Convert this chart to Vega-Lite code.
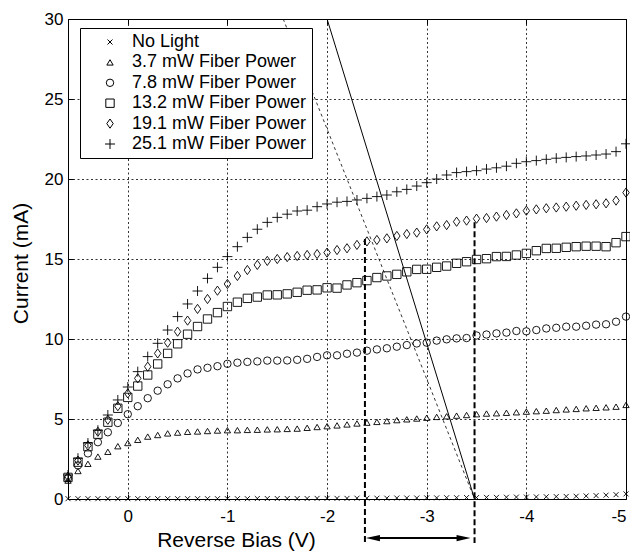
{
  "$schema": "https://vega.github.io/schema/vega-lite/v6.json",
  "width": 558,
  "height": 480,
  "autosize": {"type": "none"},
  "padding": {"left": 68, "top": 19, "right": 4, "bottom": 52},
  "background": "white",
  "datasets": {
    "iv": [
      {"v": 0.6, "n": 0.02, "a": 1.15, "b": 1.3, "c": 1.35, "d": 1.4, "e": 1.5},
      {"v": 0.5, "n": 0.02, "a": 1.75, "b": 2.1, "c": 2.3, "d": 2.4, "e": 2.55},
      {"v": 0.4, "n": 0.02, "a": 2.2, "b": 2.85, "c": 3.27, "d": 3.35, "e": 3.5},
      {"v": 0.3, "n": 0.02, "a": 2.65, "b": 3.55, "c": 4.05, "d": 4.2, "e": 4.3},
      {"v": 0.2, "n": 0.02, "a": 2.95, "b": 4.17, "c": 4.8, "d": 4.95, "e": 5.25},
      {"v": 0.1, "n": 0.02, "a": 3.3, "b": 4.75, "c": 5.67, "d": 5.8, "e": 6.19},
      {"v": 0, "n": 0.02, "a": 3.5, "b": 5.3, "c": 6.35, "d": 6.6, "e": 7.0},
      {"v": -0.1, "n": 0.02, "a": 3.7, "b": 5.8, "c": 7.06, "d": 7.54, "e": 7.96},
      {"v": -0.2, "n": 0.02, "a": 3.9, "b": 6.3, "c": 7.75, "d": 8.27, "e": 8.9},
      {"v": -0.3, "n": 0.02, "a": 4.0, "b": 6.77, "c": 8.44, "d": 9.1, "e": 9.73},
      {"v": -0.4, "n": 0.02, "a": 4.1, "b": 7.17, "c": 9.1, "d": 9.77, "e": 10.56},
      {"v": -0.5, "n": 0.02, "a": 4.15, "b": 7.54, "c": 9.7, "d": 10.46, "e": 11.4},
      {"v": -0.6, "n": 0.02, "a": 4.2, "b": 7.85, "c": 10.3, "d": 11.15, "e": 12.19},
      {"v": -0.7, "n": 0.02, "a": 4.22, "b": 8.1, "c": 10.78, "d": 11.88, "e": 13.0},
      {"v": -0.8, "n": 0.02, "a": 4.25, "b": 8.2, "c": 11.25, "d": 12.5, "e": 13.79},
      {"v": -0.9, "n": 0.02, "a": 4.28, "b": 8.3, "c": 11.65, "d": 13.02, "e": 14.48},
      {"v": -1.0, "n": 0.02, "a": 4.3, "b": 8.45, "c": 12.03, "d": 13.44, "e": 15.15},
      {"v": -1.1, "n": 0.02, "a": 4.3, "b": 8.52, "c": 12.3, "d": 13.94, "e": 15.77},
      {"v": -1.2, "n": 0.02, "a": 4.32, "b": 8.57, "c": 12.54, "d": 14.31, "e": 16.35},
      {"v": -1.3, "n": 0.03, "a": 4.33, "b": 8.6, "c": 12.62, "d": 14.63, "e": 16.86},
      {"v": -1.4, "n": 0.03, "a": 4.35, "b": 8.65, "c": 12.75, "d": 14.88, "e": 17.29},
      {"v": -1.5, "n": 0.03, "a": 4.36, "b": 8.65, "c": 12.76, "d": 15.0, "e": 17.6},
      {"v": -1.6, "n": 0.03, "a": 4.38, "b": 8.66, "c": 12.82, "d": 15.12, "e": 17.8},
      {"v": -1.7, "n": 0.03, "a": 4.4, "b": 8.7, "c": 12.92, "d": 15.19, "e": 18.0},
      {"v": -1.8, "n": 0.03, "a": 4.45, "b": 8.76, "c": 13.05, "d": 15.25, "e": 18.05},
      {"v": -1.9, "n": 0.04, "a": 4.5, "b": 8.88, "c": 13.07, "d": 15.31, "e": 18.27},
      {"v": -2.0, "n": 0.04, "a": 4.55, "b": 8.98, "c": 13.2, "d": 15.4, "e": 18.44},
      {"v": -2.1, "n": 0.04, "a": 4.6, "b": 8.98, "c": 13.18, "d": 15.56, "e": 18.55},
      {"v": -2.2, "n": 0.04, "a": 4.66, "b": 9.08, "c": 13.38, "d": 15.67, "e": 18.6},
      {"v": -2.3, "n": 0.05, "a": 4.72, "b": 9.15, "c": 13.52, "d": 15.88, "e": 18.69},
      {"v": -2.4, "n": 0.05, "a": 4.77, "b": 9.27, "c": 13.65, "d": 16.1, "e": 18.79},
      {"v": -2.5, "n": 0.05, "a": 4.82, "b": 9.35, "c": 13.84, "d": 16.19, "e": 18.9},
      {"v": -2.6, "n": 0.05, "a": 4.87, "b": 9.42, "c": 13.94, "d": 16.29, "e": 19.0},
      {"v": -2.7, "n": 0.06, "a": 4.93, "b": 9.52, "c": 14.04, "d": 16.44, "e": 19.2},
      {"v": -2.8, "n": 0.06, "a": 4.98, "b": 9.62, "c": 14.2, "d": 16.56, "e": 19.35},
      {"v": -2.9, "n": 0.06, "a": 5.03, "b": 9.72, "c": 14.35, "d": 16.65, "e": 19.56},
      {"v": -3.0, "n": 0.07, "a": 5.08, "b": 9.77, "c": 14.36, "d": 16.85, "e": 19.77},
      {"v": -3.1, "n": 0.07, "a": 5.13, "b": 9.9, "c": 14.48, "d": 17.04, "e": 20.0},
      {"v": -3.2, "n": 0.08, "a": 5.17, "b": 9.98, "c": 14.56, "d": 17.12, "e": 20.25},
      {"v": -3.3, "n": 0.08, "a": 5.21, "b": 10.04, "c": 14.73, "d": 17.33, "e": 20.4},
      {"v": -3.4, "n": 0.09, "a": 5.25, "b": 10.06, "c": 14.83, "d": 17.4, "e": 20.46},
      {"v": -3.5, "n": 0.09, "a": 5.3, "b": 10.22, "c": 14.97, "d": 17.52, "e": 20.52},
      {"v": -3.6, "n": 0.1, "a": 5.34, "b": 10.28, "c": 15.02, "d": 17.56, "e": 20.62},
      {"v": -3.7, "n": 0.1, "a": 5.36, "b": 10.35, "c": 15.15, "d": 17.65, "e": 20.7},
      {"v": -3.8, "n": 0.11, "a": 5.39, "b": 10.4, "c": 15.16, "d": 17.75, "e": 20.8},
      {"v": -3.9, "n": 0.12, "a": 5.42, "b": 10.5, "c": 15.25, "d": 17.85, "e": 20.98},
      {"v": -4.0, "n": 0.12, "a": 5.46, "b": 10.48, "c": 15.35, "d": 18.02, "e": 21.08},
      {"v": -4.1, "n": 0.13, "a": 5.49, "b": 10.56, "c": 15.52, "d": 18.1, "e": 21.15},
      {"v": -4.2, "n": 0.14, "a": 5.52, "b": 10.66, "c": 15.66, "d": 18.17, "e": 21.23},
      {"v": -4.3, "n": 0.15, "a": 5.56, "b": 10.7, "c": 15.67, "d": 18.22, "e": 21.3},
      {"v": -4.4, "n": 0.16, "a": 5.6, "b": 10.77, "c": 15.73, "d": 18.27, "e": 21.35},
      {"v": -4.5, "n": 0.17, "a": 5.63, "b": 10.77, "c": 15.77, "d": 18.33, "e": 21.4},
      {"v": -4.6, "n": 0.19, "a": 5.67, "b": 10.83, "c": 15.8, "d": 18.38, "e": 21.44},
      {"v": -4.7, "n": 0.21, "a": 5.7, "b": 10.9, "c": 15.8, "d": 18.42, "e": 21.5},
      {"v": -4.8, "n": 0.24, "a": 5.73, "b": 10.92, "c": 15.77, "d": 18.48, "e": 21.56},
      {"v": -4.9, "n": 0.27, "a": 5.77, "b": 11.08, "c": 16.02, "d": 18.65, "e": 21.71},
      {"v": -5.0, "n": 0.32, "a": 5.88, "b": 11.4, "c": 16.4, "d": 19.15, "e": 22.2}
    ]
  },
  "layer": [
    {
      "data": {"name": "iv"},
      "transform": [{"fold": ["n", "a", "b", "c", "d", "e"], "as": ["s", "i"]}],
      "mark": {"type": "point", "filled": false, "color": "black", "strokeWidth": 0.9, "opacity": 1},
      "encoding": {
        "x": {"field": "v", "type": "quantitative",
          "scale": {"domain": [0.6, -5], "nice": false, "zero": false},
          "axis": {"values": [0, -1, -2, -3, -4, -5], "labelExpr": "'' + datum.value", "title": "Reverse Bias (V)", "labelPadding": 14, "titleX": 168, "titleY": 41, "titleBaseline": "middle", "titleAlign": "center"}},
        "y": {"field": "i", "type": "quantitative",
          "scale": {"domain": [0, 30], "nice": false},
          "axis": {"values": [0, 5, 10, 15, 20, 25, 30], "title": "Current (mA)", "labelPadding": 10, "titleX": -47, "titleY": 244, "titleBaseline": "middle", "titleAlign": "center", "titleAngle": 270}},
        "shape": {"field": "s", "type": "nominal",
          "scale": {"domain": ["n", "a", "b", "c", "d", "e"],
            "range": ["M-1,-1L1,1M1,-1L-1,1", "M0,-0.85L1,0.85L-1,0.85Z", "circle", "square", "M0,-1L0.7,0L0,1L-0.7,0Z", "M-1,0L1,0M0,-1L0,1"]},
          "legend": {"title": null, "labelExpr": "{'n':'No Light','a':'3.7 mW Fiber Power','b':'7.8 mW Fiber Power','c':'13.2 mW Fiber Power','d':'19.1 mW Fiber Power','e':'25.1 mW Fiber Power'}[datum.label]"}},
        "size": {"field": "s", "type": "nominal",
          "scale": {"domain": ["n", "a", "b", "c", "d", "e"], "range": [25, 100, 80, 70, 121, 100]},
          "legend": {"title": null, "labelExpr": "{'n':'No Light','a':'3.7 mW Fiber Power','b':'7.8 mW Fiber Power','c':'13.2 mW Fiber Power','d':'19.1 mW Fiber Power','e':'25.1 mW Fiber Power'}[datum.label]"}}
      }
    },
    {
      "data": {"values": [{"x1": -2.0, "y1": 30, "x2": -3.48, "y2": 0}]},
      "mark": {"type": "rule", "color": "black", "strokeWidth": 1},
      "encoding": {
        "x": {"field": "x1", "type": "quantitative", "axis": {"orient": "top", "values": [0, -1, -2, -3, -4, -5], "labels": false, "grid": false, "title": null, "tickSize": -5}},
        "y": {"field": "y1", "type": "quantitative", "axis": {"orient": "right", "values": [0, 5, 10, 15, 20, 25, 30], "labels": false, "grid": false, "title": null, "tickSize": -5}},
        "x2": {"field": "x2"},
        "y2": {"field": "y2"}
      }
    },
    {
      "data": {"values": [{"x1": -1.56, "y1": 30, "x2": -3.48, "y2": 0}]},
      "mark": {"type": "rule", "color": "black", "strokeWidth": 0.8, "strokeDash": [3, 3]},
      "encoding": {
        "x": {"field": "x1", "type": "quantitative", "axis": null},
        "y": {"field": "y1", "type": "quantitative", "axis": null},
        "x2": {"field": "x2"},
        "y2": {"field": "y2"}
      }
    },
    {
      "data": {"values": [{"x": -2.38, "top": 16.25, "bottom": -2.75}, {"x": -3.48, "top": 17.3, "bottom": -2.75}]},
      "mark": {"type": "rule", "color": "black", "strokeWidth": 2, "strokeDash": [6, 3]},
      "encoding": {
        "x": {"field": "x", "type": "quantitative", "axis": null},
        "y": {"field": "top", "type": "quantitative", "axis": null},
        "y2": {"field": "bottom"}
      }
    },
    {
      "data": {"values": [{"x1": -2.45, "x2": -3.37, "y": -2.44}]},
      "mark": {"type": "rule", "color": "black", "strokeWidth": 2},
      "encoding": {
        "x": {"field": "x1", "type": "quantitative", "axis": null},
        "x2": {"field": "x2"},
        "y": {"field": "y", "type": "quantitative", "axis": null}
      }
    },
    {
      "data": {"values": [{"x": -2.46, "y": -2.44}]},
      "mark": {"type": "point", "filled": true, "color": "black", "opacity": 1, "size": 196, "shape": "M-1,0L1,-0.45L1,0.45Z"},
      "encoding": {
        "x": {"field": "x", "type": "quantitative", "axis": null},
        "y": {"field": "y", "type": "quantitative", "axis": null}
      }
    },
    {
      "data": {"values": [{"x": -3.37, "y": -2.44}]},
      "mark": {"type": "point", "filled": true, "color": "black", "opacity": 1, "size": 196, "shape": "M1,0L-1,-0.45L-1,0.45Z"},
      "encoding": {
        "x": {"field": "x", "type": "quantitative", "axis": null},
        "y": {"field": "y", "type": "quantitative", "axis": null}
      }
    }
  ],
  "resolve": {"axis": {"x": "independent", "y": "independent"}},
  "config": {
    "font": "Liberation Sans",
    "view": {"stroke": "black", "strokeWidth": 1},
    "axis": {"grid": true, "gridColor": "black", "gridDash": [2, 2.5], "gridOpacity": 1, "gridWidth": 0.8, "domain": false, "tickColor": "black", "tickSize": -5, "labelColor": "black", "titleColor": "black", "labelFontSize": 17, "titleFontSize": 21, "titleFontWeight": "normal"},
    "legend": {"orient": "none", "legendX": 12, "legendY": 9, "strokeColor": "black", "fillColor": "white", "padding": 5, "labelFontSize": 18, "labelLimit": 400, "labelColor": "black", "symbolOffset": 16, "labelOffset": 13, "rowPadding": 2.4, "symbolStrokeWidth": 1, "symbolStrokeColor": "black"}
  }
}
